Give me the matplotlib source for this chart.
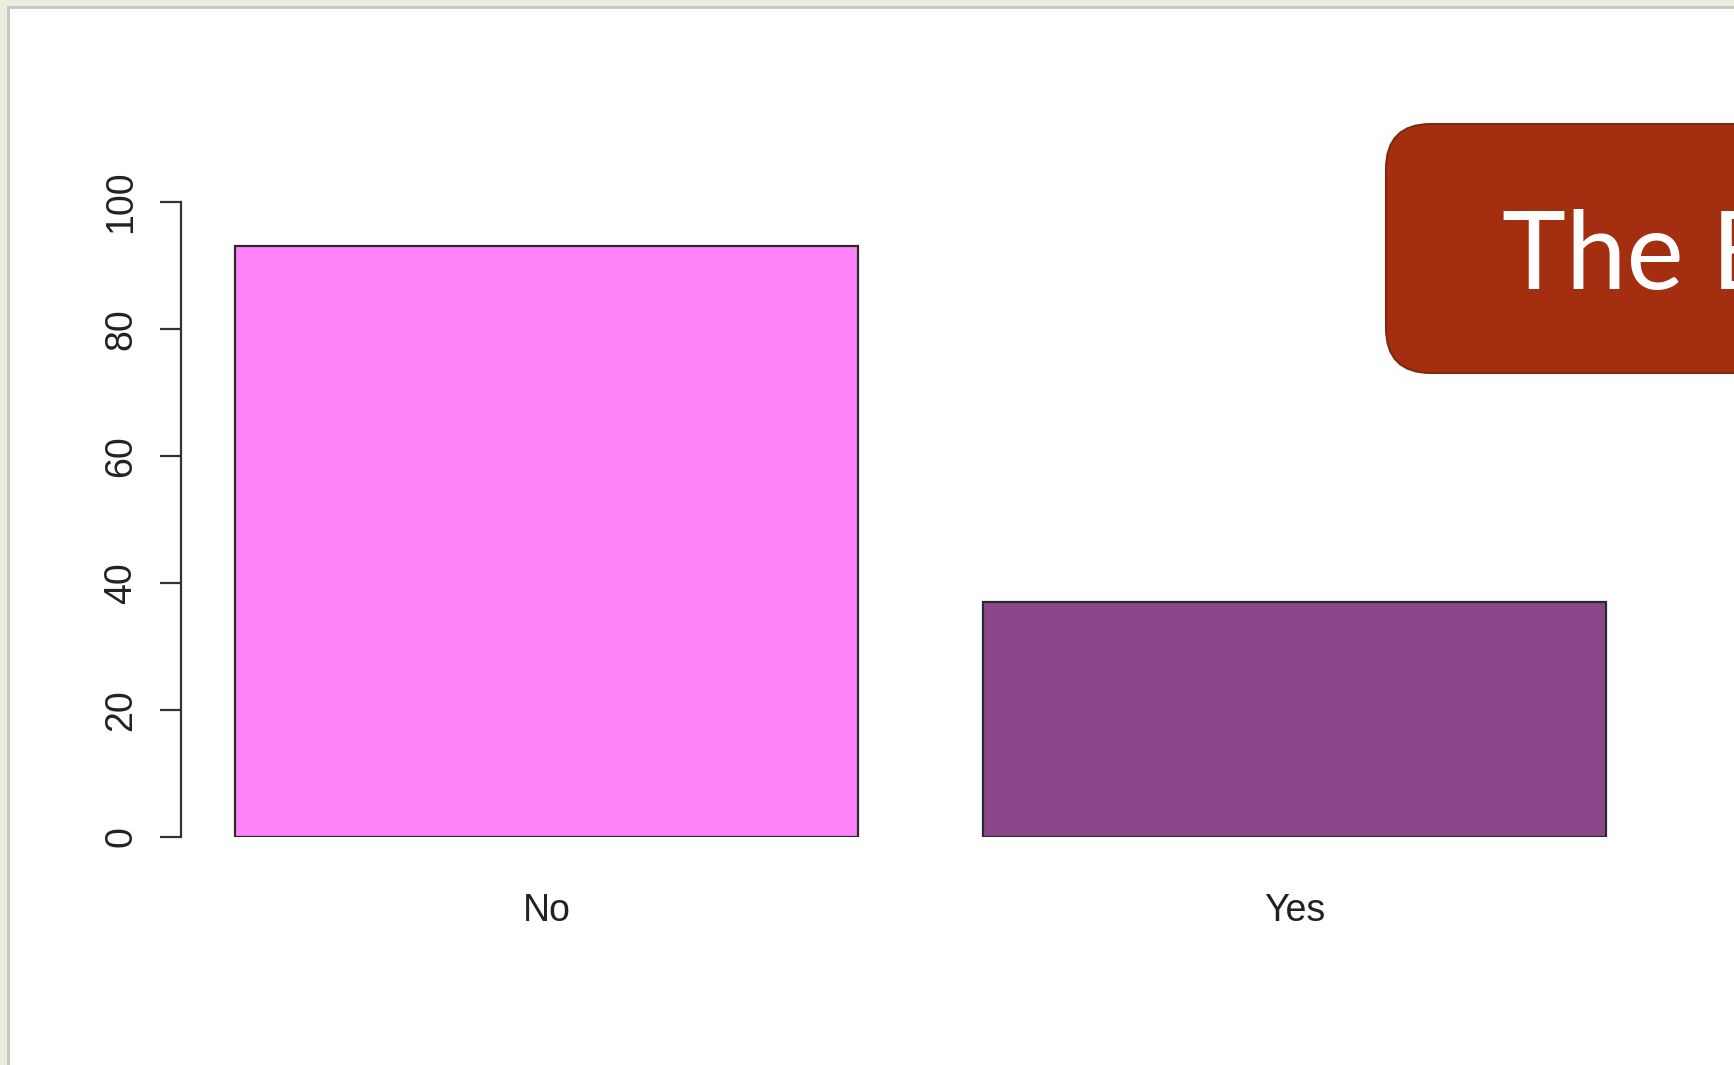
import matplotlib
matplotlib.use("Agg")
import matplotlib.pyplot as plt
from matplotlib.patches import Rectangle, FancyBboxPatch
from matplotlib.transforms import IdentityTransform

# ---- data ----
categories = ["No", "Yes"]
values = [93, 37]
bar_colors = ["#FF83FA", "#8B4789"]
yticks = [0, 20, 40, 60, 80, 100]
banner_text = "The B"

W, H = 1734, 1065
DPI = 100
fig = plt.figure(figsize=(W / DPI, H / DPI), dpi=DPI, facecolor="#EBEEDD")

# white slide panel with gray border
fig.patches.append(Rectangle((8, -10), W, H - 7 + 10, transform=IdentityTransform(),
                             facecolor="white", edgecolor="#C4C4C4", linewidth=2.0, zorder=-5))

# axes placement (pixels): y=0 at 837, y=100 at 202; axis line x=181
ax_left_px, ax_right_px = 181, 1700
ax_bottom_px, ax_top_px = 837, 202
ax = fig.add_axes([ax_left_px / W, 1 - ax_bottom_px / H,
                   (ax_right_px - ax_left_px) / W, (ax_bottom_px - ax_top_px) / H])
ax.set_zorder(1)
ax.set_facecolor("none")

unit = 623.0  # px per bar width unit
x0 = 0.7 - (546.8 - ax_left_px) / unit
ax.set_xlim(x0, x0 + (ax_right_px - ax_left_px) / unit)
ax.set_ylim(0, 100)

centers = [0.7, 1.9]
ax.bar(centers, values, width=1.0, color=bar_colors, edgecolor="#2a2a2a", linewidth=1.6, zorder=2)

for s in ["top", "right", "bottom"]:
    ax.spines[s].set_visible(False)
ax.spines["left"].set_bounds(0, 100)
ax.spines["left"].set_linewidth(1.6)
ax.spines["left"].set_color("#333333")

ax.set_yticks(yticks)
ax.set_yticklabels([str(v) for v in yticks], rotation=90, va="center",
                   fontsize=27, color="#222222", family=["Liberation Sans", "DejaVu Sans"])
ax.tick_params(axis="y", length=15, width=1.6, color="#333333", pad=15)

ax.set_xticks(centers)
ax.set_xticklabels(categories, fontsize=27, color="#222222",
                   family=["Liberation Sans Narrow", "Liberation Sans", "DejaVu Sans"])
ax.tick_params(axis="x", length=0, pad=40)

# red banner
banner = FancyBboxPatch((1386, H - 373), 500, 249,
                        boxstyle="round,pad=0,rounding_size=45",
                        transform=IdentityTransform(), facecolor="#A42F10",
                        edgecolor="#80290F", linewidth=1.5, zorder=5)
fig.patches.append(banner)
fig.text(1502 / W, 1 - 289 / H, banner_text, color="white", fontsize=78, weight="normal",
         family=["Lato", "DejaVu Sans"], ha="left", va="baseline", zorder=6)

fig.savefig("out.png", dpi=DPI, facecolor=fig.get_facecolor())
